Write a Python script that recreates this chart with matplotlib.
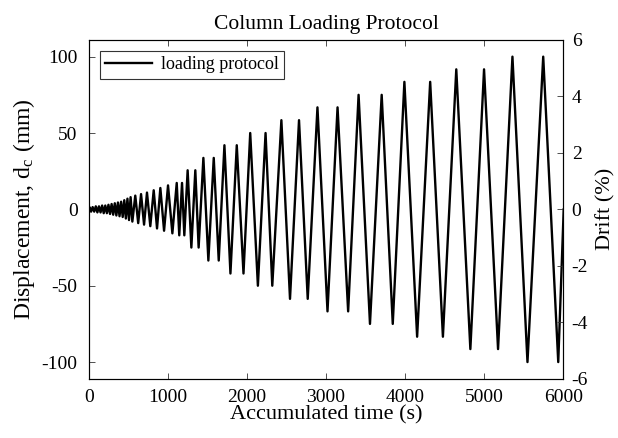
import matplotlib
matplotlib.use("Agg")
import matplotlib.pyplot as plt

# vertices of the loading history
time_s = [0, 10, 30, 50, 70, 90, 110, 130, 150, 170, 190, 210, 230, 250, 270,
          290, 310, 330, 350, 370, 390, 410, 430, 450, 470, 490, 510, 530, 552,
          589, 626, 662, 700, 737, 779, 822, 864, 906, 953, 1003, 1058,
          1113, 1145, 1180, 1209, 1251, 1298, 1348, 1390, 1450, 1513, 1581, 1644,
          1716, 1792, 1872, 1957, 2042, 2139, 2236, 2321, 2436, 2545, 2659, 2769,
          2892, 3019, 3146, 3280, 3412, 3556, 3704, 3844, 3991, 4152, 4317, 4478,
          4647, 4825, 4998, 5175, 5357, 5547, 5746, 5936, 6005]
disp_mm = [0, 1.5, -1.5, 1.5, -1.5, 2, -2, 2, -2, 2.5, -2.5, 2.5, -2.5, 3, -3,
           3.5, -3.5, 4, -4, 4.5, -4.5, 5, -5, 6, -6, 7, -7, 8, -8,
           9, -9, 10, -10, 11, -11, 12.5, -12.5, 14, -14, 15.7, -15.7,
           17.3, -17, 17.3, -17, 25.6, -25, 25.6, -25, 33.7, -33.5, 33.7, -33.5,
           42, -42, 42, -42, 50, -50, 50, -50, 58.4, -58.6, 58.4, -58.6,
           66.8, -66.8, 66.8, -66.8, 75, -75, 75, -75, 83.5, -83.4, 83.5, -83.4,
           91.7, -91.5, 91.7, -91.5, 100, -100, 100, -100, 0]

left_ticks = [-100, -50, 0, 50, 100]
right_ticks = [-6, -4, -2, 0, 2, 4, 6]
x_ticks = [0, 1000, 2000, 3000, 4000, 5000, 6000]

plt.rcParams['font.family'] = ['Liberation Serif', 'DejaVu Serif']
plt.rcParams['mathtext.fontset'] = 'stix'
plt.rcParams['axes.unicode_minus'] = False

fig = plt.figure(figsize=(6.18, 4.38), dpi=100)
ax = fig.add_axes([0.1435, 0.135, 0.768, 0.774])

ax.plot(time_s, disp_mm, color='k', linewidth=1.7, label='loading protocol')
ax.set_xlim(0, 6000)
ax.set_ylim(-111, 111)
ax.set_xticks(x_ticks)
ax.set_yticks(left_ticks)
ax.tick_params(direction='in', labelsize=14, top=True, length=4, width=0.6,
               color='#333333')
ax.tick_params(axis='x', pad=7)
ax.tick_params(axis='y', pad=8)
for s in ax.spines.values():
    s.set_linewidth(0.8)
    s.set_color('#333333')
ax.set_xlabel('Accumulated time (s)', fontsize=16, labelpad=0)
ax.set_ylabel('Displacement, d$_\\mathregular{c}$ (mm)', fontsize=17, labelpad=3)
ax.set_title('Column Loading Protocol', fontsize=15.5, pad=8)

ax2 = ax.twinx()
ax2.set_ylim(-6, 6)
ax2.set_yticks(right_ticks)
ax2.tick_params(direction='in', labelsize=14, length=4, width=0.6,
                color='#333333', pad=6)
ax2.set_ylabel('Drift (%)', fontsize=16, labelpad=6)

leg = ax.legend(loc='upper left', fontsize=13, fancybox=False, framealpha=1,
                edgecolor='#333333', handlelength=2.6, handletextpad=0.5,
                borderpad=0.3, borderaxespad=0.6)
leg.get_frame().set_linewidth(0.8)

fig.savefig('out.png', dpi=100)
